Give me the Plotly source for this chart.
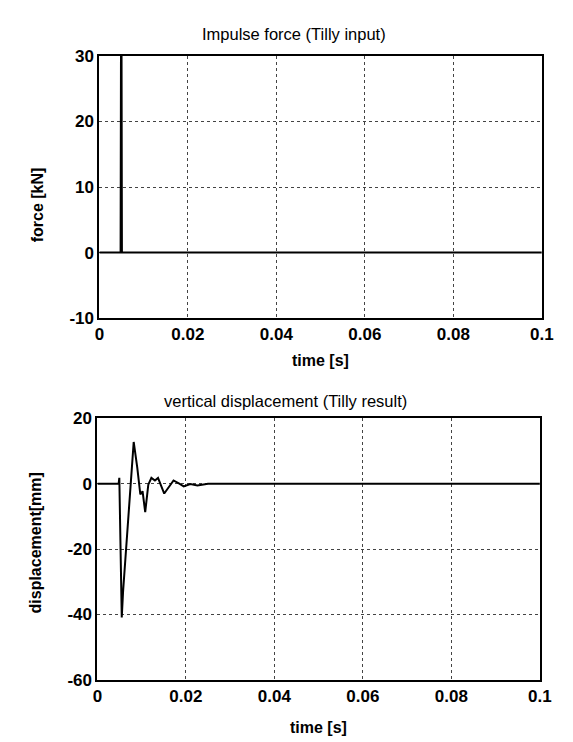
import plotly.graph_objects as go

W, H = 573, 742

# ---- data ----
force_t = [0.0, 0.0048, 0.0049, 0.0050, 0.0051, 0.1]
force_kN = [0.0, 0.0, 35.0, 35.0, 0.0, 0.0]

disp_t = [0.0, 0.0048, 0.00495, 0.0052, 0.0055, 0.0058, 0.0070, 0.0082, 0.0090,
          0.0097, 0.0102, 0.0108, 0.0115, 0.0122, 0.0130, 0.0137, 0.0151,
          0.0162, 0.0172, 0.0185, 0.0195, 0.0210, 0.0226, 0.0250, 0.1]
disp_mm = [0.0, 0.0, 1.8, -22.0, -41.0, -33.0, -9.0, 12.8, 5.0,
           -3.3, -2.3, -8.7, -0.3, 1.8, 1.0, 1.8, -3.0,
           -1.0, 1.0, 0.0, -0.8, -0.1, -0.5, 0.0, 0.0]

x_ticks = [0, 0.02, 0.04, 0.06, 0.08, 0.1]
x_ticklabels = ["0", "0.02", "0.04", "0.06", "0.08", "0.1"]
force_ticks = [-10, 0, 10, 20, 30]
force_ticklabels = ["-10", "0", "10", "20", "30"]
disp_ticks = [-60, -40, -20, 0, 20]
disp_ticklabels = ["-60", "-40", "-20", "0", "20"]

# ---- layout geometry (pixels) ----
def px(x):
    return x / W

def py(y):
    return 1 - y / H

top = dict(l=89, r=545, t=40, b=309)
bot = dict(l=87, r=543, t=412, b=680)

FONT = "Liberation Sans, Arial, sans-serif"

fig = go.Figure()
fig.add_trace(go.Scatter(x=force_t, y=force_kN, mode="lines",
                         line=dict(color="black", width=2),
                         xaxis="x", yaxis="y", showlegend=False))
fig.add_trace(go.Scatter(x=disp_t, y=disp_mm, mode="lines",
                         line=dict(color="black", width=2),
                         xaxis="x2", yaxis="y2", showlegend=False))

axis_common = dict(showline=True, linecolor="black", linewidth=2, mirror=True,
                   showgrid=True, gridcolor="#444", griddash="dot", gridwidth=1,
                   zeroline=False, ticks="",
                   tickfont=dict(family=FONT, size=17, color="black", weight="bold"))

fig.update_layout(
    width=W, height=H,
    margin=dict(l=0, r=0, t=0, b=0),
    paper_bgcolor="white", plot_bgcolor="white",
    xaxis=dict(domain=[px(top["l"]), px(top["r"])], anchor="y", range=[0, 0.1],
               tickvals=x_ticks, ticktext=x_ticklabels, **axis_common),
    yaxis=dict(domain=[py(top["b"]), py(top["t"])], anchor="x", range=[-10, 30],
               tickvals=force_ticks, ticktext=force_ticklabels, **axis_common),
    xaxis2=dict(domain=[px(bot["l"]), px(bot["r"])], anchor="y2", range=[0, 0.1],
                tickvals=x_ticks, ticktext=x_ticklabels, **axis_common),
    yaxis2=dict(domain=[py(bot["b"]), py(bot["t"])], anchor="x2", range=[-60, 20],
                tickvals=disp_ticks, ticktext=disp_ticklabels, **axis_common),
)

ann = []
def text(s, x, y, size, bold=False, angle=0):
    ann.append(dict(text=s, x=px(x), y=py(y), xref="paper", yref="paper",
                    showarrow=False, textangle=angle,
                    font=dict(family=FONT, size=size, color="black",
                              weight="bold" if bold else "normal"),
                    xanchor="center", yanchor="middle"))

text("Impulse force (Tilly input)", 290, 17, 16.5)
text("time [s]", 317, 353, 16, bold=True)
text("force [kN]", 25, 193, 16, bold=True, angle=-90)
text("vertical displacement (Tilly result)", 281, 394, 16.5)
text("time [s]", 315, 729, 16, bold=True)
text("displacement[mm]", 23, 540, 16, bold=True, angle=-90)
fig.update_layout(annotations=ann)

fig.write_html("out.html")
